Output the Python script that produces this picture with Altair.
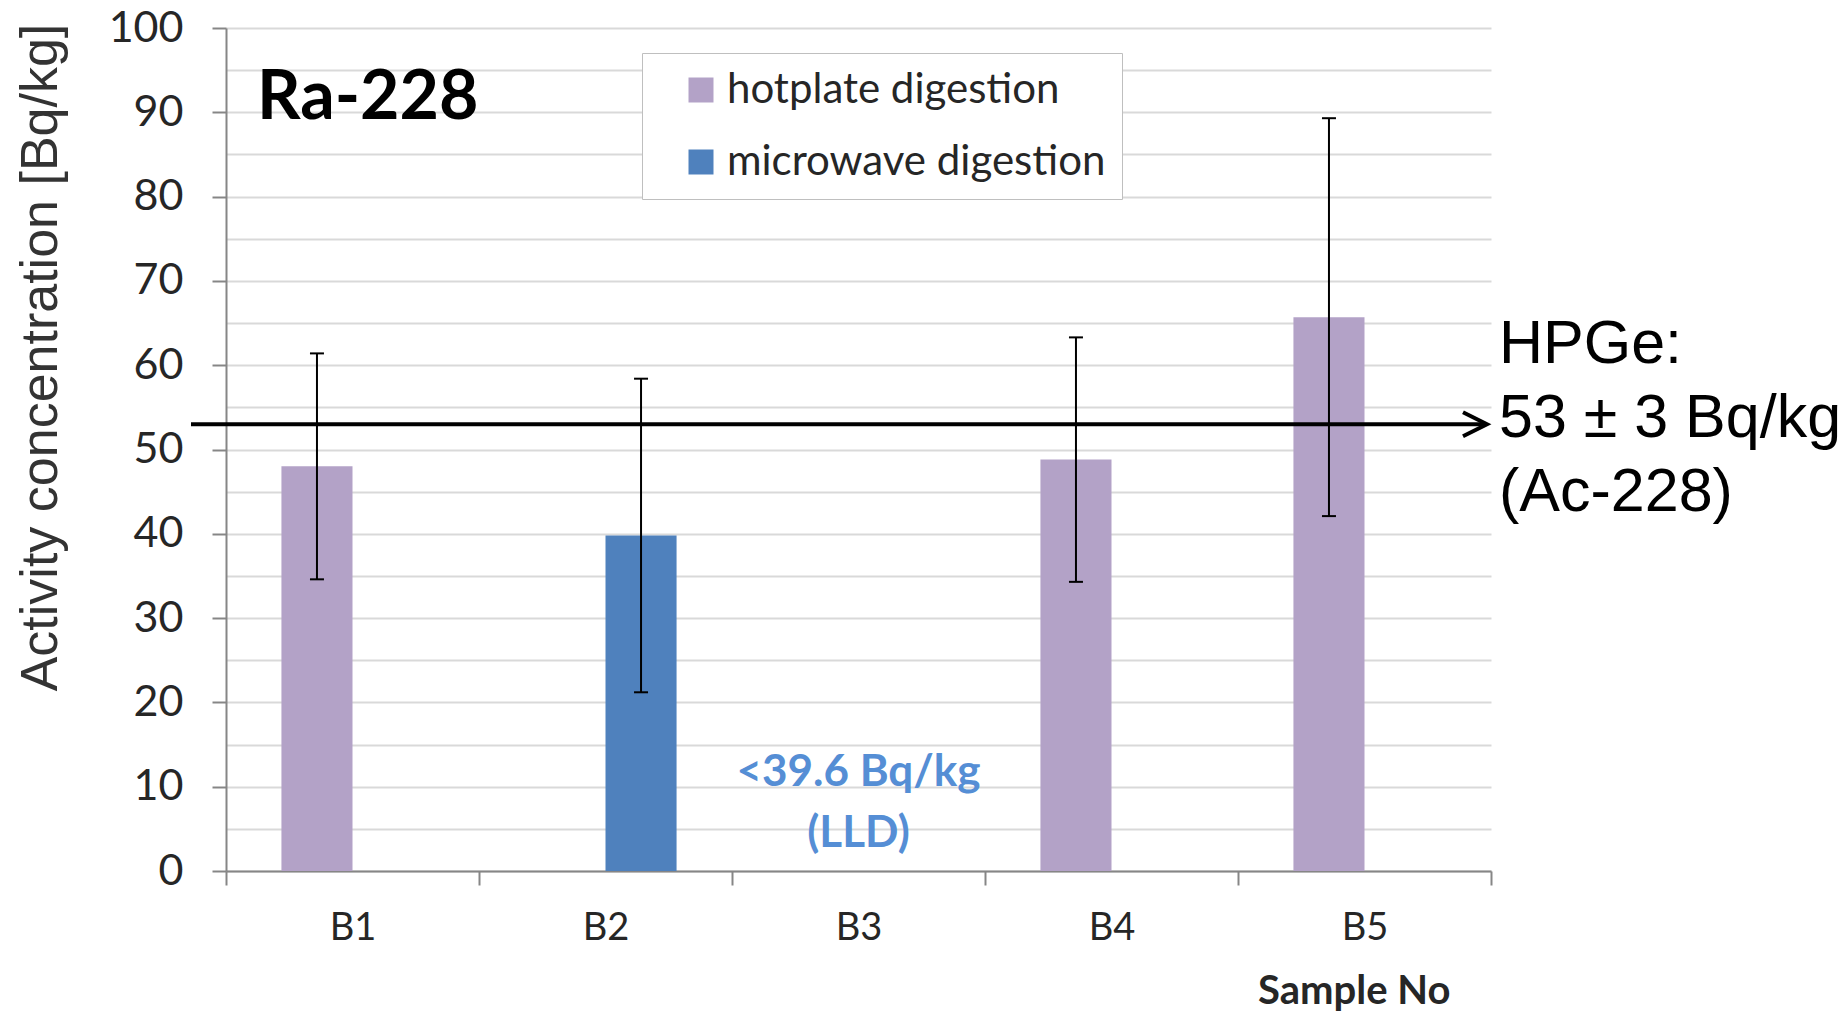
import altair as alt
import pandas as pd

# ---- data ----
samples = ["B1", "B2", "B3", "B4", "B5"]
methods = ["hotplate digestion", "microwave digestion"]
bar_samples = ["B1", "B2", "B4", "B5"]
bar_methods = ["hotplate digestion", "microwave digestion", "hotplate digestion", "hotplate digestion"]
bar_values = [48.0, 39.8, 48.8, 65.7]
bar_errors = [13.4, 18.6, 14.5, 23.6]
colors = ["#B3A2C7", "#4F81BD"]

hpge_value = 53
hpge_lines = ["HPGe:", "53 \u00b1 3 Bq/kg", "(Ac-228)"]
panel_title = "Ra-228"
lld_sample = "B3"
lld_lines = ["<39.6 Bq/kg", "(LLD)"]
y_title = "Activity concentration [Bq/kg]"
x_title = "Sample No"

df = pd.DataFrame({
    "sample": bar_samples,
    "method": bar_methods,
    "value": bar_values,
    "err": bar_errors,
})
df["lo"] = df["value"] - df["err"]
df["hi"] = df["value"] + df["err"]

hpge_df = pd.DataFrame({"hpge": [hpge_value]})
title_df = pd.DataFrame({"t": [panel_title], "y": [89.2]})
lld_df = pd.DataFrame({"sample": [lld_sample], "y": [11.6]})

W, H = 1265, 843

xscale = alt.Scale(domain=samples, paddingInner=0, paddingOuter=0)
xoscale = alt.Scale(domain=methods, paddingInner=0, paddingOuter=0.78)
yscale = alt.Scale(domain=[0, 100], nice=False)

x_axis = alt.Axis(
    title=x_title, tickBand="extent", labelAngle=0, grid=False,
    domainColor="#868686", domainWidth=2, tickColor="#868686", tickWidth=2, tickSize=14,
    labelFont="Lato", labelFontSize=38, labelColor="#262626", labelPadding=24,
    titleFont="Lato", titleFontSize=40, titleFontWeight="bold", titleColor="#262626",
    titleX=1224, titleY=120, titleAlign="right", titleBaseline="middle",
)
y_axis = alt.Axis(
    title=y_title, values=list(range(0, 101, 5)),
    labelExpr="datum.value % 10 === 0 ? datum.label : ''",
    grid=True, gridColor="#D9D9D9", gridWidth=2,
    domainColor="#868686", domainWidth=2, tickColor="#868686", tickWidth=2, tickSize=14,
    tickOpacity={"condition": {"test": "datum.value % 10 === 0", "value": 1}, "value": 0},
    labelFont="Lato", labelFontSize=43, labelColor="#262626", labelPadding=29,
    titleFont="Liberation Sans", titleFontSize=52, titleFontWeight="normal", titleColor="#333333",
    titlePadding=41, titleY=329,
)

bars = alt.Chart(df).mark_bar().encode(
    x=alt.X("sample:N", scale=xscale, axis=x_axis),
    xOffset=alt.XOffset("method:N", scale=xoscale),
    y=alt.Y("value:Q", scale=yscale, axis=y_axis),
    color=alt.Color(
        "method:N",
        scale=alt.Scale(domain=methods, range=colors),
        legend=alt.Legend(
            title=None, orient="none", legendX=416, legendY=25,
            symbolType="square", symbolSize=625, symbolStrokeWidth=0, symbolOffset=22,
            labelFont="Lato", labelFontSize=42, labelColor="#262626", labelOffset=5,
            labelLimit=600,
            rowPadding=30, padding=16, strokeColor="#BFBFBF", fillColor="white",
        ),
    ),
)

err_rule = alt.Chart(df).mark_rule(color="black", strokeWidth=2).encode(
    x=alt.X("sample:N", scale=xscale),
    xOffset=alt.XOffset("method:N", scale=xoscale),
    y=alt.Y("lo:Q", scale=yscale),
    y2="hi:Q",
)
cap_lo = alt.Chart(df).mark_tick(orient="horizontal", size=14, thickness=2, color="black", opacity=1).encode(
    x=alt.X("sample:N", scale=xscale),
    xOffset=alt.XOffset("method:N", scale=xoscale),
    y=alt.Y("lo:Q", scale=yscale),
)
cap_hi = alt.Chart(df).mark_tick(orient="horizontal", size=14, thickness=2, color="black", opacity=1).encode(
    x=alt.X("sample:N", scale=xscale),
    xOffset=alt.XOffset("method:N", scale=xoscale),
    y=alt.Y("hi:Q", scale=yscale),
)

hpge_rule = alt.Chart(hpge_df).mark_rule(color="black", strokeWidth=4).encode(
    x=alt.value(-35), x2=alt.value(1259),
    y=alt.Y("hpge:Q", scale=yscale),
)
hpge_head = alt.Chart(hpge_df).mark_point(
    shape="M-1,-0.5L0,0L-1,0.5", filled=False, size=2304, strokeWidth=4,
    color="black", opacity=1,
).encode(
    x=alt.value(1261),
    y=alt.Y("hpge:Q", scale=yscale),
)
hpge_text = alt.Chart(hpge_df).mark_text(
    align="left", baseline="middle", font="Liberation Sans", fontSize=61,
    lineHeight=74, color="black", dy=-79,
).encode(
    x=alt.value(1273),
    y=alt.Y("hpge:Q", scale=yscale),
    text=alt.value(hpge_lines),
)

title_text = alt.Chart(title_df).mark_text(
    align="left", baseline="alphabetic", font="Lato", fontSize=68,
    fontWeight="bold", color="black",
).encode(
    x=alt.value(31),
    y=alt.Y("y:Q", scale=yscale),
    text="t:N",
)

lld_text = alt.Chart(lld_df).mark_text(
    align="center", baseline="middle", font="Lato", fontSize=44,
    fontWeight="bold", color="#558ED5", lineHeight=61,
).encode(
    x=alt.X("sample:N", scale=xscale),
    y=alt.Y("y:Q", scale=yscale),
    text=alt.value(lld_lines),
)

chart = alt.layer(
    bars, err_rule, cap_lo, cap_hi, hpge_rule, hpge_head, hpge_text, title_text, lld_text
).properties(
    width=W, height=H,
    autosize=alt.AutoSizeParams(type="none"),
    padding={"left": 226, "top": 28, "right": 357, "bottom": 140},
    background="white",
).configure_view(stroke=None)

chart.save("out.html", embed_options={"renderer": "svg", "actions": False})
